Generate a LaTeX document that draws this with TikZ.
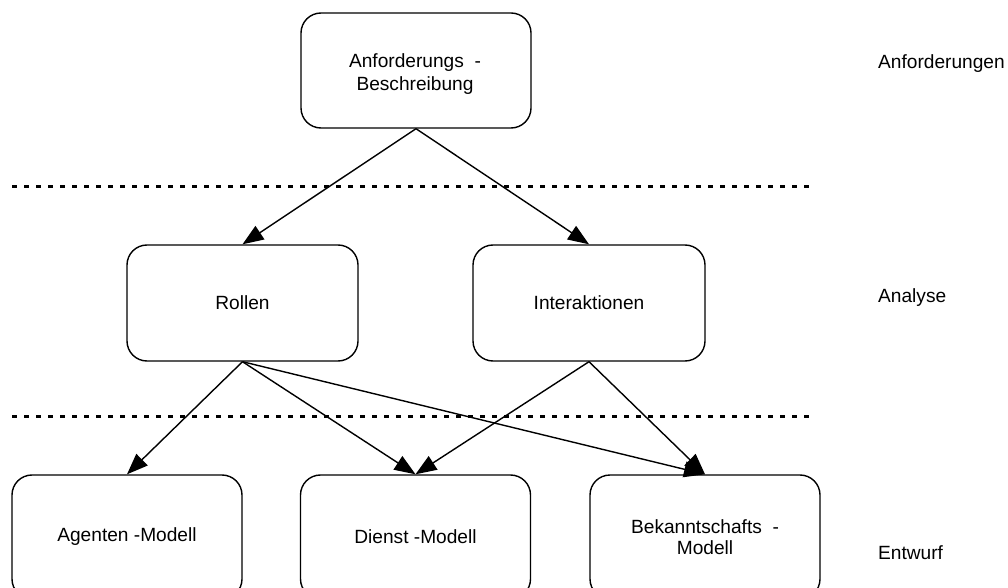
\documentclass[tikz,border=0pt]{standalone}
\usepackage{fontspec}
\setmainfont{Liberation Sans}
\usetikzlibrary{arrows.meta}
\begin{document}
\begin{tikzpicture}[x=1bp,y=-1bp,
  box/.style={draw, line width=1.4bp, rounded corners=20bp, minimum width=230bp, minimum height=116bp, align=center, inner sep=0pt, font=\fontsize{19.2}{23}\selectfont},
  txt/.style={align=center, inner sep=0pt, font=\fontsize{19.2}{23}\selectfont},
  conn/.style={line width=1.4bp, -{Triangle[length=21bp,width=16bp]}},
  sep/.style={line width=3bp, dash pattern=on 5bp off 7bp},
  lbl/.style={anchor=west, inner sep=0pt, font=\fontsize{19.2}{23}\selectfont}]
\useasboundingbox (0,0) rectangle (1008,588);
\clip (0,0) rectangle (1008,588);
\node[box, minimum height=115bp] (req) at (416,70.5) {};
\node[txt] (reqt) at (415,74) {Anforderungs\ \ -\\Beschreibung};
\node[box, minimum width=231bp] (rol) at (242.5,303) {Rollen};
\node[box, minimum width=232bp] (int) at (589,303) {Interaktionen};
\node[box, minimum height=124bp] (age) at (127,537) {Agenten -Modell};
\node[box, minimum height=124bp] (die) at (415.5,537) {Dienst -Modell};
\node[box, minimum height=124bp] (bek) at (705,537) {};
\node[txt, font=\fontsize{19.2}{21.5}\selectfont] (bekt) at (705,537) {Bekanntschafts\ \ -\\Modell};
\coordinate (d1a) at (12,186.5);
\coordinate (d1b) at (815,186.5);
\coordinate (d2a) at (12,416.5);
\coordinate (d2b) at (815,416.5);
\draw[sep] (d1a) -- (d1b);
\draw[sep] (d2a) -- (d2b);
\draw[conn] (req.south) -- (rol.north);
\draw[conn] (req.south) -- (int.north);
\draw[conn] (rol.south) -- (age.north);
\draw[conn] (rol.south) -- (die.north);
\draw[conn] (rol.south) -- (bek.north);
\draw[conn] (int.south) -- (die.north);
\draw[conn] (int.south) -- (bek.north);
\node[lbl] (l1) at (878,64) {Anforderungen};
\node[lbl] (l2) at (878,298) {Analyse};
\node[lbl] (l3) at (878,553) {Entwurf};
\end{tikzpicture}
\end{document}
